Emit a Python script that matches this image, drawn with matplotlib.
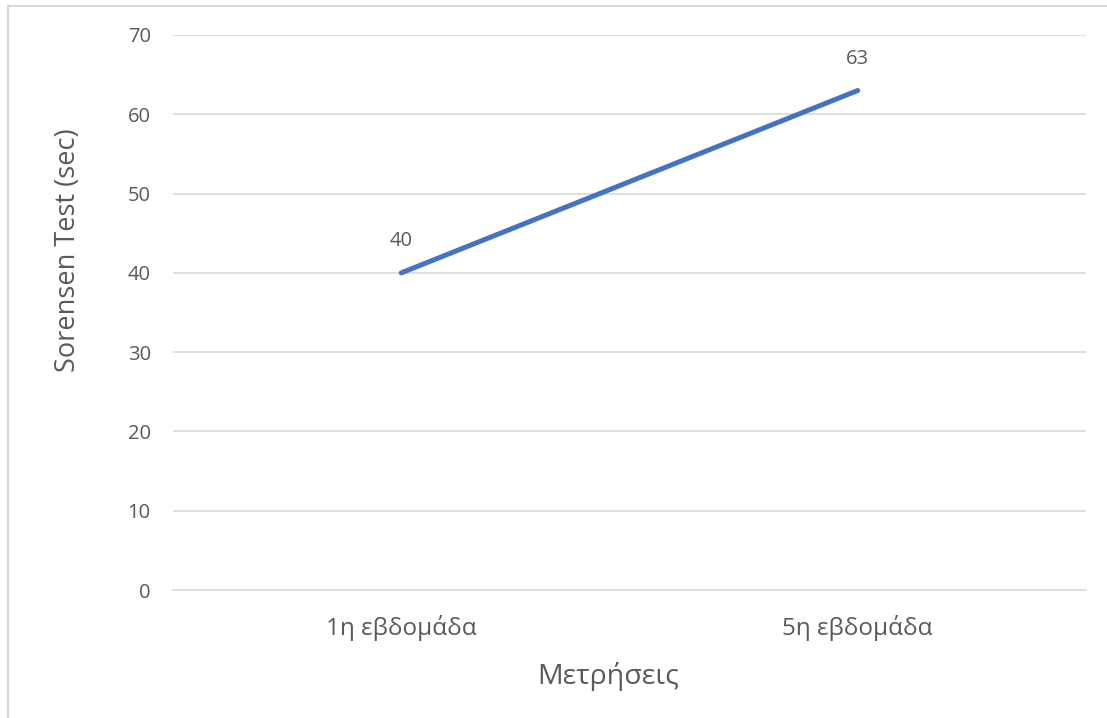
import matplotlib
matplotlib.use("Agg")
import matplotlib.pyplot as plt
from matplotlib.patches import Rectangle

categories = ["1η εβδομάδα", "5η εβδομάδα"]
values = [40, 63]
y_ticks = [0, 10, 20, 30, 40, 50, 60, 70]

plt.rcParams["font.family"] = ["Open Sans", "DejaVu Sans"]
text_color = "#595959"
grid_color = "#D9D9D9"
line_color = "#4472C4"

W, H = 1107, 718
fig = plt.figure(figsize=(W / 100, H / 100), dpi=100)

# outer chart frame
fig.patches.append(Rectangle((8 / W, -0.05), 1.2, 1 - 6 / H + 0.05,
                             transform=fig.transFigure, fill=False,
                             edgecolor=grid_color, linewidth=1.5))

ax = fig.add_axes([173 / W, 1 - 590 / H, (1086 - 173) / W, (590 - 35) / H])
x = list(range(len(categories)))
ax.plot(x, values, color=line_color, linewidth=3.6, solid_capstyle="round")
for xi, v in zip(x, values):
    ax.annotate(str(v), (xi, v), xytext=(0, 23), textcoords="offset points",
                ha="center", va="center", fontsize=14.5, color=text_color)

ax.set_xlim(-0.5, len(categories) - 0.5)
ax.set_ylim(0, 70)
ax.set_yticks(y_ticks)
ax.set_xticks(x)
ax.set_xticklabels(categories, fontsize=17.5)
ax.yaxis.grid(True, color=grid_color, linewidth=1.2)
ax.set_axisbelow(True)
for s in ["top", "right", "left"]:
    ax.spines[s].set_visible(False)
ax.spines["bottom"].set_color(grid_color)
ax.spines["bottom"].set_linewidth(1.2)
ax.tick_params(axis="both", length=0, colors=text_color)
ax.tick_params(axis="y", pad=16, labelsize=14.5)
ax.tick_params(axis="x", pad=18)

ax.set_xlabel("Μετρήσεις", fontsize=20.5, color=text_color, va="center")
ax.xaxis.set_label_coords(0.4765, -0.155)
ax.set_ylabel("Sorensen Test (sec)", fontsize=19.5, color=text_color,
              va="center", ha="center", rotation_mode="default")
ax.yaxis.set_label_coords(-0.115, 0.6126)

fig.savefig("out.png", dpi=100)
